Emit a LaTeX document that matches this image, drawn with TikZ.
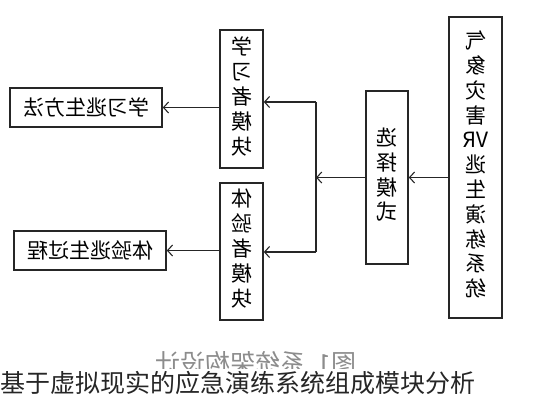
\documentclass[tikz,border=0pt]{standalone}
\usepackage{fontspec}
\newfontfamily\cjk{Noto Sans CJK SC}
\usetikzlibrary{arrows.meta, positioning, calc}
\tikzset{
  box/.style={draw=black!85, line width=1.6pt, inner sep=0pt, font=\cjk\fontsize{21}{24}\selectfont},
  link/.style={draw=black!85, line width=1.2pt, -{Straight Barb[length=5pt, width=11pt, line width=1.1pt]}},
}
\newcommand\mirror[1]{\reflectbox{#1}}
\newcommand\vstack[1]{\begin{tabular}{@{}c@{}}#1\end{tabular}}

\begin{document}
\begin{tikzpicture}[x=1pt, y=-1pt]
\useasboundingbox (0,0) rectangle (543,400);

% the system and the mode choice
\node[box, minimum width=53pt, minimum height=301pt] (system) at (475.5,167.5)
  {\mirror{\vstack{气\\象\\灾\\害\\VR\\逃\\生\\演\\练\\系\\统}}};
\node[box, minimum width=42pt, minimum height=173pt] (mode) at (387,177.5)
  {\mirror{\vstack{选\\择\\模\\式}}};

% the two user modules
\node[box, font=\cjk\fontsize{21}{25}\selectfont, minimum width=43pt, minimum height=138pt] (learner) at (241.5,99)
  {\mirror{\vstack{学\\习\\者\\模\\块}}};
\node[box, font=\cjk\fontsize{21}{25}\selectfont, minimum width=43pt, minimum height=137pt] (player) at (241.5,251.5)
  {\mirror{\vstack{体\\验\\者\\模\\块}}};

% what each module leads to
\node[box, minimum width=152pt, minimum height=39pt] (method) at (86,107.5)
  {\mirror{学习逃生方法}};
\node[box, minimum width=152pt, minimum height=39pt] (process) at (90,250.5)
  {\mirror{体验逃生过程}};

\coordinate (fork) at (316,177.5);
\coordinate (forkup) at (316,102);
\coordinate (forkdown) at (316,252);

\draw[link] (system.west |- mode) -- (mode.east);
\draw[link] (mode.west) -- (fork);
\draw[draw=black!85, line width=1.2pt] (forkup) -- (forkdown);
\draw[link] (forkup) -- (learner.east |- forkup);
\draw[link] (forkdown) -- (player.east |- forkdown);
\draw[link] (learner.west |- method) -- (method.east);
\draw[link] (player.west |- process) -- (process.east);

% caption, half hidden under the title
\node[font=\cjk\fontsize{25}{28}\selectfont, text=black!45, anchor=north] (caption) at (256,348)
  {\mirror{图1\ \ 系统架构设计}};
\fill[white] (0,369) rectangle (543,400);
\node[font=\cjk\fontsize{25}{28}\selectfont, text=black!85, anchor=west, inner sep=0pt] (title) at (0,383)
  {基于虚拟现实的应急演练系统组成模块分析};
\end{tikzpicture}
\end{document}
